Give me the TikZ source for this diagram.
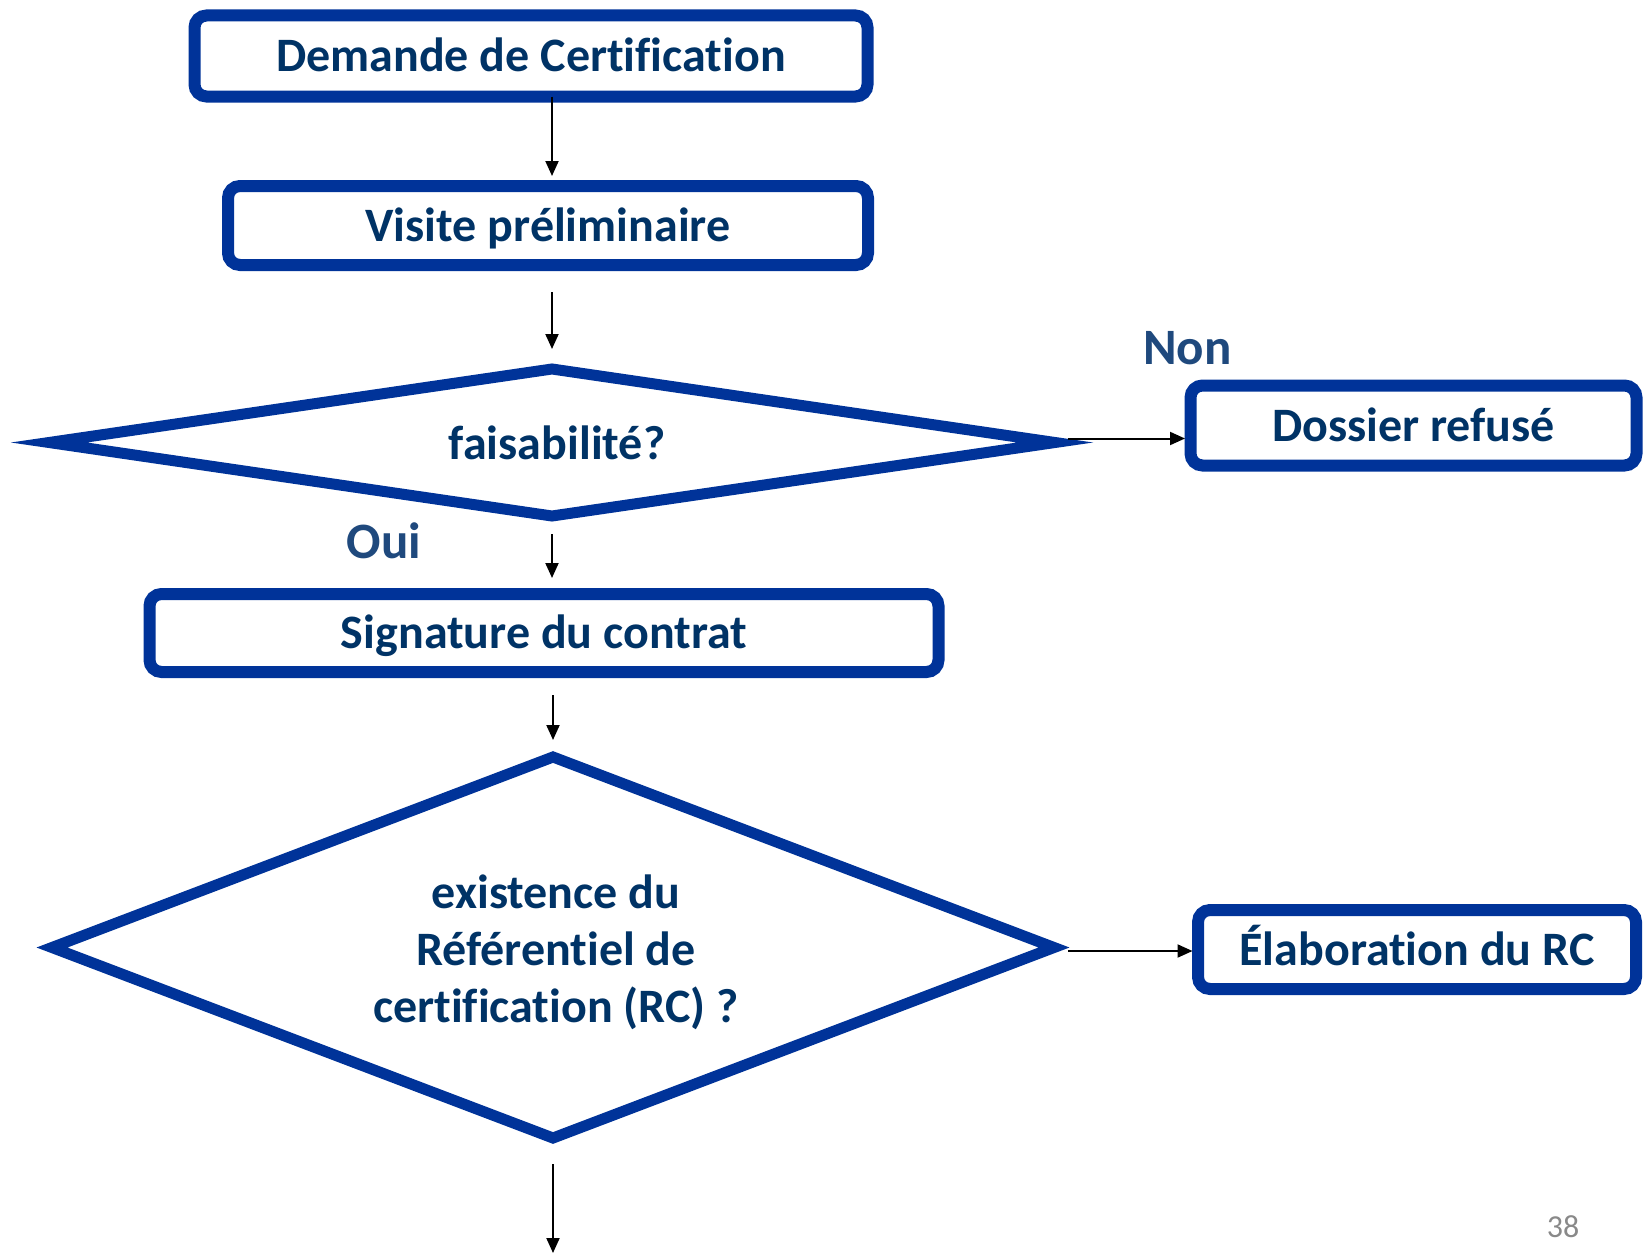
\documentclass[tikz,border=0pt]{standalone}
\usepackage{fontspec}
\setmainfont{Carlito}[Ligatures=NoCommon]
\usetikzlibrary{shapes.geometric,arrows.meta,calc}
\definecolor{bordblue}{RGB}{0,51,153}
\definecolor{txtnavy}{RGB}{0,51,102}
\definecolor{lblblue}{RGB}{31,73,125}
\definecolor{pagegrey}{RGB}{137,137,137}
\begin{document}
\begin{tikzpicture}[x=1pt,y=-1pt,
  procbox/.style={draw=bordblue,line width=12pt,rounded corners=12pt,fill=white,text=txtnavy,
    font=\fontsize{48}{57}\selectfont\bfseries,outer sep=0pt,inner sep=0pt,text height=31pt,text depth=0pt},
  decision/.style={diamond,draw=bordblue,line width=11pt,fill=white,outer sep=0pt,inner sep=0pt},
  dtext/.style={text=txtnavy,font=\fontsize{48}{57}\selectfont\bfseries,inner sep=0pt,align=center},
  flow/.style={draw=black,line width=2pt,-{Triangle[length=15pt,width=13pt]}},
  lbl/.style={text=lblblue,font=\fontsize{51}{61}\selectfont\bfseries,inner sep=0pt,text height=33pt,text depth=0pt}]
\useasboundingbox (0,0) rectangle (1645,1255);

\node[procbox,minimum width=673pt,minimum height=81pt] (demande) at (531,56) {Demande de Certification};
\node[procbox,minimum width=640pt,minimum height=79pt] (visite) at (548,225.5) {Visite préliminaire};
\node[decision,aspect=6.84,minimum width=1006pt,minimum height=147pt] (d1) at (552,442.5) {};
\node[dtext,text height=31pt,text depth=0pt] (d1text) at (557,444) {faisabilité?};
\node[procbox,minimum width=446pt,minimum height=80pt] (dossier) at (1413.5,425.5) {Dossier refusé};
\node[procbox,minimum width=789pt,minimum height=78pt] (signature) at (544,633) {Signature du contrat};
\node[decision,aspect=2.63,minimum width=1002pt,minimum height=381pt] (d2) at (553,947.5) {};
\node[dtext] (d2text) at (556,952) {existence du\\Référentiel de\\certification (RC) ?};
\node[procbox,minimum width=438pt,minimum height=79pt] (elab) at (1417,949.5) {Élaboration du RC};

\node[lbl] (non) at (1187.5,348) {Non};
\node[lbl] (oui) at (384,542) {Oui};
\node[text=pagegrey,font=\fontsize{32}{38}\selectfont,inner sep=0pt] (page) at (1563,1227) {38};

\coordinate (bottomend) at (553,1253);
\coordinate (nonstart) at ([xshift=13pt,yshift=4pt]d1.east);
\coordinate (elabstart) at ([xshift=14pt,yshift=-3.5pt]d2.east);

\draw[flow,shorten >=10pt] (d1.north |- demande.south) -- (d1.north |- visite.north);
\draw[flow,shorten <=27pt,shorten >=20pt] (d1.north |- visite.south) -- (d1.north);
\draw[flow,shorten <=18pt,shorten >=16pt] (d1.south) -- (d1.south |- signature.north);
\draw[flow,shorten <=23pt,shorten >=17pt] (d2.north |- signature.south) -- (d2.north);
\draw[flow,shorten <=26pt] (d2.south) -- (bottomend);
\draw[flow,shorten >=5.5pt] (nonstart) -- (nonstart -| dossier.west);
\draw[flow,shorten >=5.5pt] (elabstart) -- (elabstart -| elab.west);
\end{tikzpicture}
\end{document}
